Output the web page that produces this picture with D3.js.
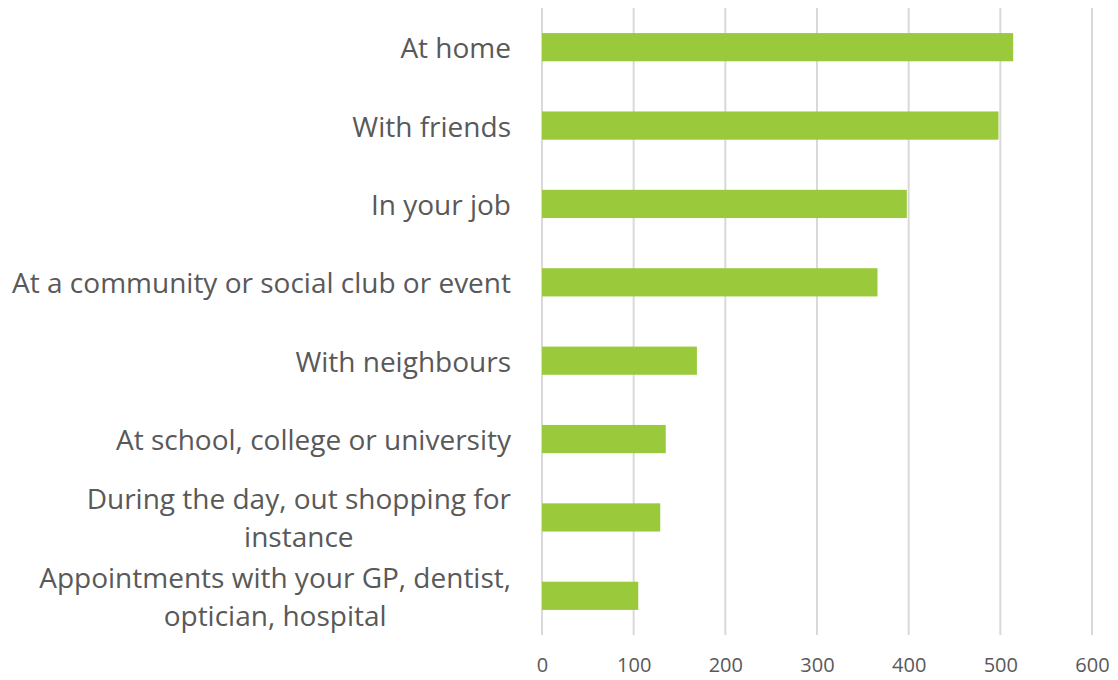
<!DOCTYPE html>
<html>
<head>
<meta charset="utf-8">
<script src="https://cdn.jsdelivr.net/npm/d3@7"></script>
<style>
  body { margin: 0; background: #fff; }
  text { font-family: "Open Sans", sans-serif; fill: #595959; }
</style>
</head>
<body>
<svg></svg>
<script>
// categories, top to bottom (line breaks as in the original labels)
const categories = [
  "At home",
  "With friends",
  "In your job",
  "At a community or social club or event",
  "With neighbours",
  "At school, college or university",
  "During the day, out shopping for\ninstance",
  "Appointments with your GP, dentist,\noptician, hospital"
];
const values = [514, 498, 398, 366, 169, 135, 129, 105];
const xTicks = [0, 100, 200, 300, 400, 500, 600];

const width = 1118;
const height = 680;
const plotLeft = 542, plotRight = 1092, plotTop = 8, plotBottom = 635;

const svg = d3.select("svg")
  .attr("width", width)
  .attr("height", height);

// scales
const xScale = d3.scaleLinear()
  .domain([0, 600])
  .range([plotLeft, plotRight]);

const yScale = d3.scaleBand()
  .domain(categories)
  .range([plotTop, plotBottom])
  .paddingInner(0.64)
  .paddingOuter(0.32);

// vertical gridlines
svg.append("g")
  .selectAll("line")
  .data(xTicks)
  .enter()
  .append("line")
  .attr("x1", d => xScale(d))
  .attr("x2", d => xScale(d))
  .attr("y1", plotTop)
  .attr("y2", plotBottom)
  .attr("stroke", "#d9d9d9")
  .attr("stroke-width", 2);

// x axis labels
const xAxis = d3.axisBottom(xScale).tickValues(xTicks).tickSize(0).tickPadding(0);
const gx = svg.append("g")
  .attr("transform", `translate(0,${plotBottom + 23})`)
  .call(xAxis);
gx.select(".domain").remove();
gx.selectAll("text")
  .attr("dy", "0.71em")
  .style("font-size", "20px")
  .style("font-family", "'Open Sans', sans-serif")
  .attr("fill", "#595959");

// bars
svg.selectAll("rect.bar")
  .data(values)
  .enter()
  .append("rect")
  .attr("class", "bar")
  .attr("x", xScale(0))
  .attr("y", (d, i) => yScale(categories[i]))
  .attr("width", d => xScale(d) - xScale(0))
  .attr("height", yScale.bandwidth())
  .attr("fill", "#9aca3c");

// category labels: block right-aligned, lines centred inside the block
const lineH = 38;
const labels = svg.append("g").selectAll("text")
  .data(categories)
  .enter()
  .append("text")
  .style("font-size", "28px")
  .attr("y", d => yScale(d) + yScale.bandwidth() / 2);

labels.each(function (d) {
  const lines = d.split("\n");
  const t = d3.select(this);
  lines.forEach((ln, j) => {
    t.append("tspan")
      .attr("dy", j === 0 ? `${(-(lines.length - 1) * lineH / 2)}px` : `${lineH}px`)
      .attr("dominant-baseline", "central")
      .text(ln);
  });
});

// measure the widest line and centre the lines in a right-aligned block
labels.each(function (d) {
  const t = d3.select(this);
  const spans = t.selectAll("tspan").nodes();
  const widths = spans.map(s => s.getComputedTextLength());
  const w = d3.max(widths);
  const cx = 511 - w / 2;
  spans.forEach(s => {
    d3.select(s).attr("x", cx).attr("text-anchor", "middle");
  });
});
</script>
</body>
</html>
